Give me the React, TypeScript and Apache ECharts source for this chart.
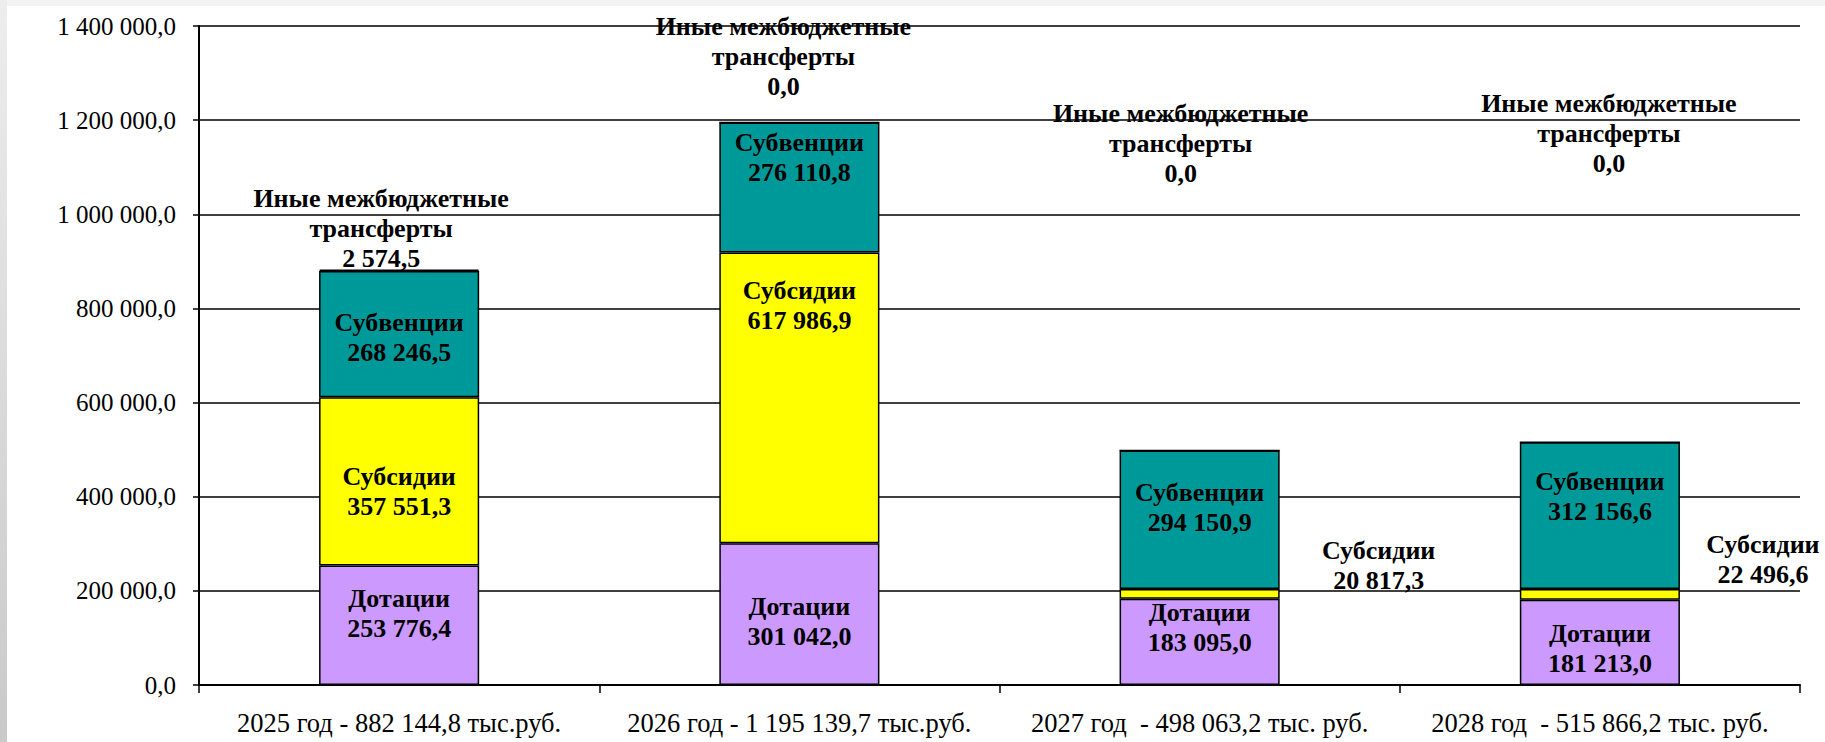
import React, { useEffect, useRef } from "react";
import * as echarts from "echarts";

const categories = [
  "2025 год - 882 144,8 тыс.руб.",
  "2026 год - 1 195 139,7 тыс.руб.",
  "2027 год  - 498 063,2 тыс. руб.",
  "2028 год  - 515 866,2 тыс. руб.",
];
const seriesNames = ["Дотации", "Субсидии", "Субвенции", "Иные межбюджетные\nтрансферты"];
const dotacii = [253776.4, 301042.0, 183095.0, 181213.0];
const subsidii = [357551.3, 617986.9, 20817.3, 22496.6];
const subvencii = [268246.5, 276110.8, 294150.9, 312156.6];
const inye = [2574.5, 0.0, 0.0, 0.0];
const yTicks = { min: 0, max: 1400000, interval: 200000 };

const colors = ["#CC99FF", "#FFFF00", "#009999", "#000000"];

// label offsets (layout only), per series per category
const labelOffsets: number[][][] = [
  [[0, -12], [0, 7], [0, -14], [0, 6]],
  [[0, 10], [0, -92], [179, -28], [163, -35]],
  [[0, 3], [0, -30], [0, -12], [0, -19]],
  [[-18, 4], [-16, -20], [-19, -261], [9, -263]],
];

function fmt(v: number): string {
  const s = Math.abs(v).toFixed(1);
  const [ip, dp] = s.split(".");
  const withSp = ip.replace(/\B(?=(\d{3})+(?!\d))/g, " ");
  return (v < 0 ? "-" : "") + withSp + "," + dp;
}

const FONT = "'Liberation Serif', 'Times New Roman', serif";

export default function App() {
  const ref = useRef<HTMLDivElement>(null);
  useEffect(() => {
    document.body.style.margin = "0";
    if (!ref.current) return;
    const chart = echarts.init(ref.current, undefined, { renderer: "svg" });
    const all = [dotacii, subsidii, subvencii, inye];
    const series = all.map((vals, si) => ({
      type: "bar",
      name: seriesNames[si],
      stack: "total",
      barWidth: "40%",
      itemStyle: { color: colors[si], borderColor: "#000", borderWidth: 1.5 },
      label: {
        show: true,
        position: si === 3 ? "top" : "inside",
        distance: 0,
        fontFamily: FONT,
        fontWeight: "bold",
        fontSize: 26,
        lineHeight: 30,
        color: "#000",
        align: "center",
        formatter: (p: any) => `${seriesNames[si]}\n${fmt(p.value)}`,
      },
      data: vals.map((v, i) => ({ value: v, label: { offset: labelOffsets[si][i] } })),
    }));
    chart.setOption({
      animation: false,
      backgroundColor: "#ffffff",
      textStyle: { fontFamily: FONT },
      grid: { left: 199, right: 25, top: 26, bottom: 57, containLabel: false },
      graphic: [
        { type: "rect", left: 0, top: 0, shape: { width: 1825, height: 6 }, style: { fill: "#f3f3f3" }, silent: true },
        {
          type: "rect",
          left: 0,
          top: 0,
          shape: { width: 7, height: 742 },
          style: {
            fill: new echarts.graphic.LinearGradient(0, 0, 0, 1, [
              { offset: 0, color: "#ededed" },
              { offset: 1, color: "#c9c9c9" },
            ]),
          },
          silent: true,
        },
      ],
      xAxis: {
        type: "category",
        data: categories,
        axisLine: { show: true, lineStyle: { color: "#000", width: 2 } },
        axisTick: { show: true, length: 8, lineStyle: { color: "#000", width: 1.5 } },
        axisLabel: { fontFamily: FONT, fontSize: 26.5, color: "#000", margin: 24, interval: 0 },
      },
      yAxis: {
        type: "value",
        min: yTicks.min,
        max: yTicks.max,
        interval: yTicks.interval,
        axisLine: { show: true, lineStyle: { color: "#000", width: 2 } },
        axisTick: { show: true, length: 6, lineStyle: { color: "#000", width: 1.5 } },
        splitLine: { show: true, lineStyle: { color: "#000", width: 1.5 } },
        axisLabel: { fontFamily: FONT, fontSize: 25, color: "#000", margin: 23, formatter: (v: number) => fmt(v) },
      },
      series,
    });
    return () => chart.dispose();
  }, []);
  return <div ref={ref} style={{ width: 1825, height: 742 }} />;
}
